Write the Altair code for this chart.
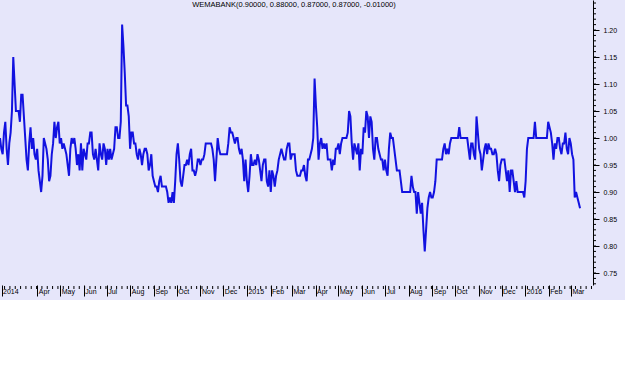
import altair as alt
import pandas as pd

title_text = "WEMABANK(0.90000, 0.88000, 0.87000, 0.87000, -0.01000)"
start_date = "2014-02-11"
end_date = "2016-03-13"

seg1 = [1.00,0.98,0.97,1.01,1.03,0.98,0.95,0.99,1.01,1.05,
        1.15,1.10,1.05,1.05,1.05,1.03,1.08,1.08,1.04,1.00,
        0.96,0.94,0.99,1.02,0.98,1.00,0.97,0.96,0.98,0.94,
        0.92,0.90,0.93,1.00,0.99,0.98,0.96,0.92,0.93,0.97,
        0.99,1.03,1.00,1.02,1.03,0.99,1.00,0.98,0.99,0.98,
        0.97,0.95,0.93,0.98,1.00,0.99,1.00,0.98,0.95,0.97,
        0.94,0.99,0.94,0.98,0.97,0.96,0.99,0.99,1.01,1.01,
        0.97,0.96,0.98,0.96,0.94,0.99,0.97,0.96,0.99,0.98,
        0.95,0.98,0.96,0.98,0.96,0.97,0.98,1.02,1.02]
seg2 = [1.00,1.00,1.03,1.21,1.17,1.12,1.06,1.06,1.04,0.98,
        1.01,1.01,0.99,0.99,0.97,0.96,0.98,0.97,0.95,0.97,
        0.98,0.98,0.97,0.94,0.95,0.97,0.93,0.92,0.91,0.91,
        0.90,0.92,0.93,0.91,0.91,0.91,0.91,0.90,0.88,0.89,
        0.88,0.90,0.88,0.92,0.97,0.99,0.96,0.92,0.91,0.93,
        0.95,0.95,0.96,0.95,0.97,0.98,0.94,0.94,0.93,0.94,
        0.96,0.96,0.95,0.96,0.96,0.97,0.99,0.99,0.99,0.99,
        0.99,0.98,0.96,0.92,0.96,1.00,0.98,0.97,0.97,0.97,
        0.97,0.97,0.97,0.99,1.02,1.01,1.01,1.00,0.99]
seg3 = [1.00,1.00,0.98,0.97,0.98,0.96,0.92,0.96,0.92,0.90,
        0.93,0.97,0.95,0.95,0.96,0.95,0.97,0.96,0.94,0.92,
        0.95,0.96,0.96,0.92,0.91,0.94,0.90,0.94,0.93,0.91,
        0.93,0.94,0.96,0.97,0.98,0.97,0.96,0.96,0.98,0.99,
        0.99,0.96,0.97,0.97,0.97,0.94,0.93,0.93,0.93,0.94,
        0.94,0.95,0.93,0.92,0.96,0.96,0.97,0.98,1.00,1.11,
        1.06,1.02,0.96,0.99,1.00,0.98,0.99,0.98,0.99,0.96,
        0.96,0.96,0.94,0.96,0.95,0.98,0.98,0.99,0.97,0.99,
        1.00,1.00,1.00,1.00,1.01,1.05,1.04,0.99,0.96]
seg4 = [0.99,0.98,0.97,0.99,0.94,0.98,0.97,1.02,1.01,1.05,
        1.04,1.00,1.04,1.03,0.98,0.96,1.00,1.00,0.98,0.97,
        0.96,0.96,0.94,0.96,0.94,0.93,0.98,1.01,1.00,1.00,
        0.98,0.96,0.94,0.94,0.94,0.92,0.90,0.90,0.90,0.90,
        0.90,0.90,0.90,0.93,0.91,0.90,0.90,0.86,0.90,0.88,
        0.86,0.88,0.83,0.79,0.83,0.87,0.89,0.90,0.89,0.89,
        0.90,0.92,0.96,0.96,0.96,0.96,0.96,0.98,0.99,0.97,
        0.98,0.97,0.99,1.00,1.00,1.00,1.00,1.00,1.00,1.02,
        1.00,1.00,1.00,1.00,1.00,1.00,0.98,0.96,0.99]
seg5 = [0.99,0.97,0.96,1.04,1.01,0.98,0.97,0.94,0.96,0.98,
        0.99,0.97,0.99,0.98,0.98,0.97,0.97,0.98,0.97,0.94,
        0.92,0.95,0.96,0.96,0.96,0.94,0.92,0.94,0.90,0.94,
        0.94,0.92,0.90,0.92,0.90,0.90,0.90,0.90,0.90,0.89,
        0.92,0.98,1.00,1.00,1.00,1.00,1.00,1.03,1.00,1.00,
        1.00,1.00,1.00,1.00,1.00,1.00,1.00,1.03,1.02,1.01,
        0.99,0.96,0.99,0.98,1.00,1.00,0.98,0.97,0.99,0.99,
        1.01,0.98,0.97,1.00,0.99,0.97,0.96,0.89,0.90,0.89,
        0.88,0.87]

close = seg1 + seg2 + seg3 + seg4 + seg5
dates = pd.date_range(start_date, end_date, periods=len(close))
df = pd.DataFrame({"date": dates, "close": close})

y_major = [0.75, 0.80, 0.85, 0.90, 0.95, 1.00, 1.05, 1.10, 1.15, 1.20]
y_minor = [round(0.73 + 0.01 * i, 2) for i in range(53)]
month_ticks = [pd.Timestamp("2014-02-13")] + list(pd.date_range("2014-04-01", "2016-03-01", freq="MS"))
week_ticks = pd.date_range("2014-02-17", "2016-03-28", freq="W-MON")

x_domain = [alt.DateTime(year=2014, month=2, date=11), alt.DateTime(year=2016, month=3, date=30)]
y_domain = [0.7278, 1.2556]

W, H = 593, 285
BG = "#E6E6FA"

x_values = [alt.DateTime(year=d.year, month=d.month, date=d.day) for d in month_ticks]
label_expr = ("month(datum.value) == 0 || (year(datum.value) == 2014 && month(datum.value) == 1) "
              "? timeFormat(datum.value, '%Y') : timeFormat(datum.value, '%b')")

xscale = alt.Scale(domain=x_domain)
yscale = alt.Scale(domain=y_domain, nice=False, zero=False)

x_axis = alt.Axis(
    values=x_values, labelExpr=label_expr, title=None, grid=False, domain=False,
    tickSize=11, tickColor="black", labelAlign="left", labelBaseline="top",
    labelPadding=-9, labelOffset=1, labelFontSize=7, labelFont="Liberation Sans",
    labelColor="black", labelOverlap=False, labelFlush=False, labelBound=False)
y_axis = alt.Axis(
    orient="right", values=y_major, format=".2f", title=None, grid=False,
    domainColor="black", tickColor="black", tickSize=6, labelPadding=4,
    labelFontSize=7, labelFont="Liberation Sans", labelColor="black",
    labelOverlap=False, labelFlush=False, labelBound=False)

line = alt.Chart(df).mark_line(color="#1212E0", strokeWidth=2).encode(
    x=alt.X("date:T", scale=xscale, axis=x_axis),
    y=alt.Y("close:Q", scale=yscale, axis=y_axis),
)

xminor = alt.Chart(pd.DataFrame({"date": week_ticks})).mark_rule(color="black", strokeWidth=1).encode(
    x=alt.X("date:T", scale=xscale, axis=x_axis),
    y=alt.value(H + 1),
    y2=alt.value(H + 4),
)

yminor = alt.Chart(pd.DataFrame({"close": y_minor})).mark_rule(color="black", strokeWidth=1).encode(
    y=alt.Y("close:Q", scale=yscale, axis=y_axis),
    x=alt.value(W),
    x2=alt.value(W + 3),
)

title = alt.Chart(pd.DataFrame({"t": [title_text]})).mark_text(
    fontSize=7.5, font="Liberation Sans", color="black", align="center", baseline="middle"
).encode(text="t:N", x=alt.value(294), y=alt.value(5))

chart = alt.layer(line, xminor, yminor, title).properties(
    width=W, height=H,
    autosize=alt.AutoSizeParams(type="none"),
    padding={"left": 0, "top": 0, "right": 32, "bottom": 15},
    background=BG,
).configure_view(stroke=None, fill=BG)

chart.save("out.html", embed_options={"renderer": "svg", "actions": False})
